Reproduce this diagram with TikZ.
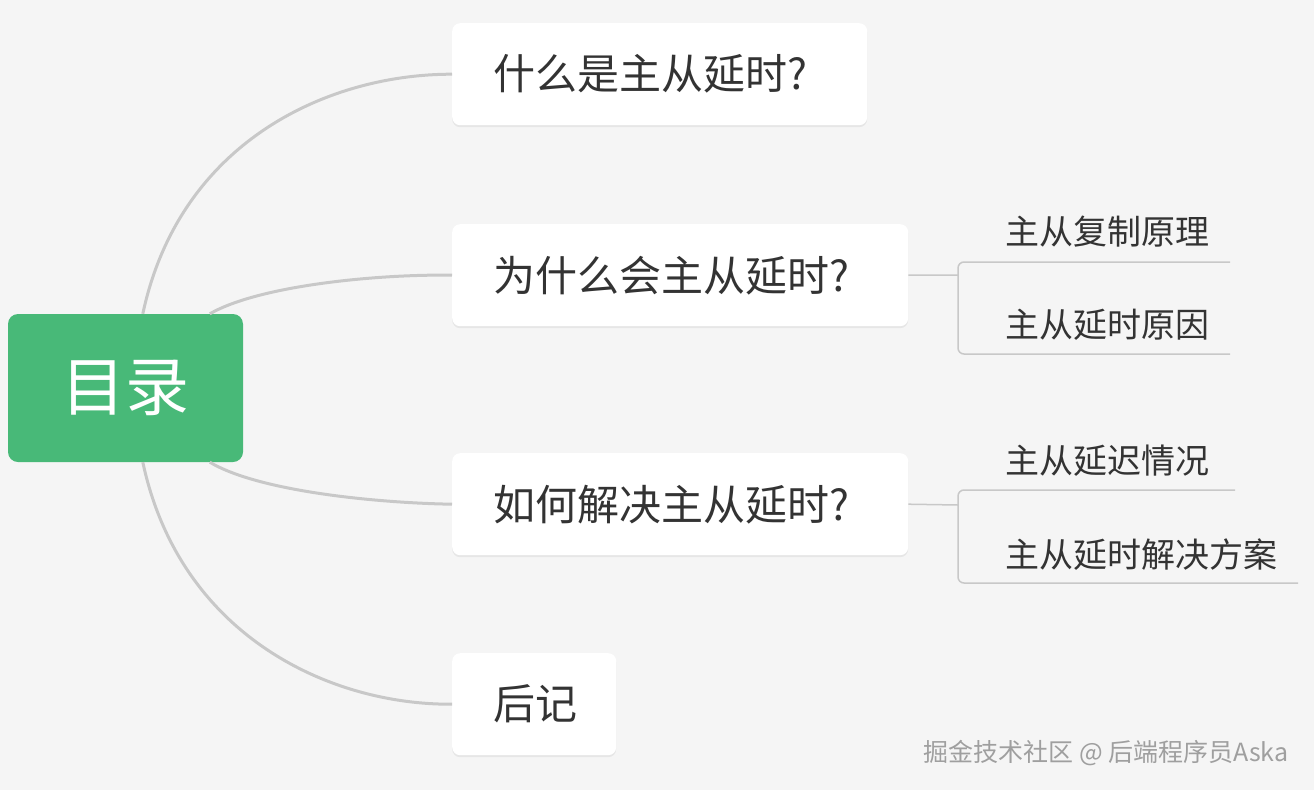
\documentclass[tikz,border=0pt]{standalone}
\usepackage{fontspec}
\setmainfont{Noto Sans CJK SC}
\usetikzlibrary{shadows}
\definecolor{rootgreen}{HTML}{48B978}
\definecolor{linegray}{HTML}{C8C8C8}
\definecolor{bggray}{HTML}{F5F5F5}
\tikzset{
  topic/.style = {fill = white, rounded corners = 8pt, anchor = north west, inner xsep = 41pt, inner ysep = 0pt,
    align = left, minimum height = 102pt, text = black!80, font = \fontsize{42}{44}\selectfont,
    drop shadow = {opacity = 0.12, shadow xshift = 0pt, shadow yshift = -2pt}},
  branch/.style = {draw = linegray, line width = 3pt},
  leaf/.style = {anchor = west, text = black!80, font = \fontsize{34}{36}\selectfont}
}
\begin{document}
\begin{tikzpicture}[x = 1pt, y = -1pt]
        % Background
        \fill [bggray] (0, 0) rectangle (1314, 790);
        \useasboundingbox (0, 0) rectangle (1314, 790);
        % Root
        \node [fill = rootgreen, rounded corners = 10pt, minimum width = 235pt, minimum height = 148pt, text = white,
          font = \fontsize{64}{66}\selectfont] (root) at (125.5, 388) {目录};
        % Topics
        \node [topic, text width = 333pt] (what) at (452, 23) {什么是主从延时?};
        \node [topic, text width = 374pt] (why) at (452, 224) {为什么会主从延时?};
        \node [topic, text width = 374pt] (how) at (452, 453) {如何解决主从延时?};
        \node [topic, text width = 82pt] (post) at (452, 653) {后记};
        % Curves to the topics
        \draw [branch] (root.north west) ++(135, 0) .. controls (180, 140) and (330, 74) .. (what.west);
        \draw [branch] (root.north west) ++(202, 0) .. controls (260, 285) and (380, 274) .. (why.west);
        \draw [branch] (root.south west) ++(202, 0) .. controls (260, 492) and (380, 503) .. (how.west);
        \draw [branch] (root.south west) ++(135, 0) .. controls (180, 636) and (330, 705) .. (post.west);
        % Leaves
        \node [leaf] (copy) at (1002, 232) {主从复制原理};
        \node [leaf] (cause) at (1002, 325) {主从延时原因};
        \node [leaf] (delay) at (1002, 461) {主从延迟情况};
        \node [leaf] (solve) at (1002, 555) {主从延时解决方案};
        \coordinate (whyfork) at (958, 275);
        \coordinate (howfork) at (958, 505);
        \draw [draw = linegray, line width = 1.5pt] (why.east) -- (whyfork);
        \draw [draw = linegray, line width = 1.5pt, rounded corners = 6pt] (1230, 262) -- (958, 262) -- (958, 354) -- (1230, 354);
        \draw [draw = linegray, line width = 1.5pt] (how.east) -- (howfork);
        \draw [draw = linegray, line width = 1.5pt, rounded corners = 6pt] (1235, 490) -- (958, 490) -- (958, 583) -- (1298, 583);
        % Watermark
        \node [anchor = east, text = gray!75, font = \fontsize{25}{27}\selectfont] (mark) at (1292, 753) {掘金技术社区 @ 后端程序员Aska};
\end{tikzpicture}
\end{document}
